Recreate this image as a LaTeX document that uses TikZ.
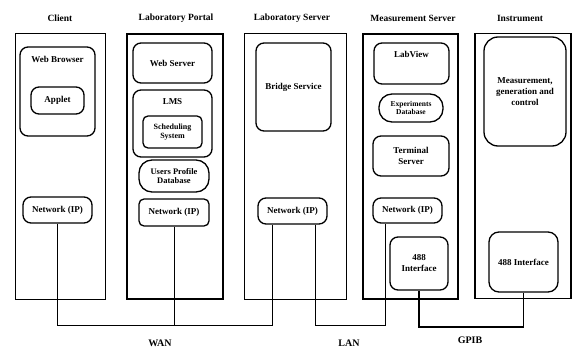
\documentclass[tikz,border=0pt]{standalone}
\usepackage{fontspec}
\setmainfont{Liberation Serif}
\usetikzlibrary{positioning, arrows.meta}

\tikzset{
    tier/.style={draw, line width=1pt, minimum width=#1, minimum height=265pt, inner sep=0pt},
    title/.style={font=\bfseries\fontsize{9.5}{11}\selectfont},
    part/.style={draw, line width=1.3pt, rounded corners=8pt, align=center, inner sep=1pt,
        font=\bfseries\fontsize{9}{11}\selectfont},
    dbase/.style={part, rounded corners=13pt, font=\bfseries\fontsize{7.5}{8.5}\selectfont},
    wire/.style={line width=0.8pt},
    netname/.style={font=\bfseries\fontsize{10}{12}\selectfont}
}

\begin{document}
\begin{tikzpicture}[x=1pt, y=-1pt]
        % background
        \useasboundingbox (0,0) rectangle (573,350);

        % columns
        \node[tier=90pt] (client) at (60,166.5) {};
        \node[tier=96pt, line width=1.3pt] (portal) at (175,166.5) {};
        \node[tier=102pt] (labsrv) at (295,166.5) {};
        \node[tier=95pt, line width=1.2pt] (meassrv) at (410.5,166.5) {};
        \node[tier=96pt, line width=1.2pt] (instr) at (523,166) {};

        \node[title] (tclient) at (60,18) {Client};
        \node[title] (tportal) at (176,18) {Laboratory Portal};
        \node[title] (tlabsrv) at (292,18) {Laboratory Server};
        \node[title] (tmeassrv) at (413,18) {Measurement Server};
        \node[title] (tinstr) at (520,18) {Instrument};

        % client
        \node[part, minimum width=75pt, minimum height=89pt,
            label={[anchor=north, inner sep=0pt, yshift=-10pt, font=\bfseries\fontsize{9}{11}\selectfont]north:Web Browser}]
            (browser) at (57.5,91.5) {};
        \node[part, minimum width=53pt, minimum height=27pt] (applet) at (57.5,100.5) {Applet};
        \node[part, minimum width=69pt, minimum height=26pt] (cnet) at (57.5,210) {Network (IP)};

        % laboratory portal
        \node[part, minimum width=79pt, minimum height=40pt] (websrv) at (172.5,63) {Web Server};
        \node[part, minimum width=79pt, minimum height=67pt,
            label={[anchor=north, inner sep=0pt, yshift=-9pt, font=\bfseries\fontsize{9}{11}\selectfont]north:LMS}]
            (lms) at (172.5,123.5) {};
        \node[part, minimum width=59pt, minimum height=32pt, rounded corners=5pt,
            font=\bfseries\fontsize{8}{9.5}\selectfont] (sched) at (172.5,132) {Scheduling\\System};
        \node[dbase, minimum width=70pt, minimum height=32pt,
            font=\bfseries\fontsize{8.5}{9.5}\selectfont] (users) at (174,176) {Users Profile\\Database};
        \node[part, minimum width=70pt, minimum height=27pt, rounded corners=5pt] (pnet) at (174,212.5) {Network (IP)};

        % laboratory server
        \node[part, minimum width=75pt, minimum height=88pt] (bridge) at (293.5,87) {Bridge Service};
        \node[part, minimum width=69pt, minimum height=26pt] (lsnet) at (292.5,211) {Network (IP)};

        % measurement server
        \node[part, minimum width=75pt, minimum height=41pt,
            label={[anchor=north, inner sep=0pt, yshift=-9pt, font=\bfseries\fontsize{9}{11}\selectfont]north:LabView}]
            (labview) at (411.5,63.5) {};
        \node[dbase, minimum width=64pt, minimum height=28pt] (expdb) at (411,108) {Experiments\\Database};
        \node[part, minimum width=76pt, minimum height=40pt] (term) at (411,156) {Terminal\\Server};
        \node[part, minimum width=69pt, minimum height=25pt] (mnet) at (407.5,210.5) {Network (IP)};
        \node[part, minimum width=58pt, minimum height=53pt] (mgpib) at (419,263.5) {488\\Interface};

        % instrument
        \node[part, minimum width=82pt, minimum height=109pt, rounded corners=14pt] (ctrl) at (525,91.5)
            {Measurement,\\generation and\\control};
        \node[part, minimum width=69pt, minimum height=60pt, rounded corners=10pt] (igpib) at (523.5,262) {488 Interface};

        % buses
        \coordinate (wan) at (57.5,325);
        \coordinate (gpib) at (419,327);
        \draw[wire] (cnet.south) -- (wan) -| ([xshift=-20.5pt]lsnet.south);
        \draw[wire] (pnet.south) -- (pnet.south |- wan);
        \draw[wire] ([xshift=22.5pt]lsnet.south) |- ([xshift=-22.5pt]mnet.south |- wan) -- ([xshift=-22.5pt]mnet.south);
        \draw[wire, line width=1.3pt] (mgpib.south) -- (gpib) -| (igpib.south);

        \node[netname] (lwan) at (160,343) {WAN};
        \node[netname] (llan) at (349,343) {LAN};
        \node[netname] (lgpib) at (470,340) {GPIB};
\end{tikzpicture}
\end{document}
